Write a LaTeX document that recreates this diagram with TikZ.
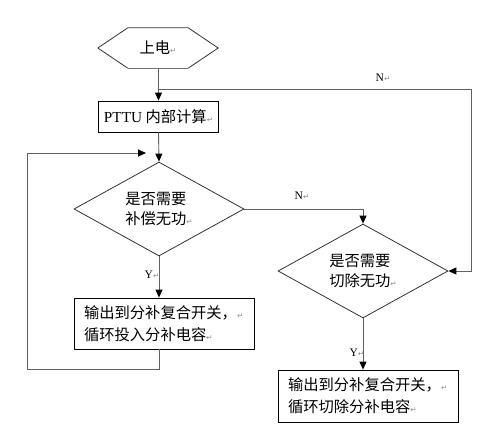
\documentclass[tikz,border=0pt]{standalone}
\usepackage{fontspec}
\setmainfont{Liberation Serif}
\newfontfamily\cjk{Noto Sans CJK SC}
\newfontfamily\symf{DejaVu Sans}
\usetikzlibrary{arrows.meta,shapes.geometric}
\newcommand\parmk{{\symf\color{black!45}\fontsize{7.5}{8}\selectfont ↵}}
\tikzset{
  conn/.style={draw=black!62, line width=0.9pt},
  arr/.style={conn, -{Triangle[length=8pt,width=7pt,color=black]}},
  boxnode/.style={draw=black, line width=0.8pt, inner sep=0pt, font=\cjk\fontsize{15.3}{22}\selectfont},
  txtbox/.style={boxnode, text width=160pt, inner xsep=10pt, align=left, minimum width=180pt},
  decision/.style={diamond, draw=black!80, line width=0.8pt, inner sep=0pt, aspect=1.8,
    minimum width=170pt, minimum height=94pt, align=left, font=\cjk\fontsize{15.3}{20}\selectfont},
  lbl/.style={inner sep=0pt, font=\fontsize{11.5}{12}\selectfont}
}
\begin{document}
\begin{tikzpicture}[x=1pt,y=-1pt]
\useasboundingbox (0,0) rectangle (495,434);
% start hexagon
\node[inner sep=0pt, minimum width=120pt, minimum height=40pt, font=\cjk\fontsize{15.3}{18}\selectfont] (start) at (158,48) {上电\parmk};
\draw[draw=black!80, line width=0.8pt] (start.west) -- ([xshift=30pt]start.north west) -- ([xshift=-30pt]start.north east) -- (start.east) -- ([xshift=-30pt]start.south east);
\draw[draw=black!55, line width=1.2pt] ([xshift=-30pt]start.south east) -- ([xshift=30pt]start.south west);
\draw[draw=black!80, line width=0.8pt] ([xshift=30pt]start.south west) -- (start.west);
% process box
\node[boxnode, minimum width=120pt, minimum height=31pt] (pttu) at (158.5,116.5) {{\rmfamily PTTU} 内部计算\parmk};
% decisions
\node[decision] (d1) at (159,209) {是否需要\\补偿无功\parmk};
\node[decision] (d2) at (363,271) {是否需要\\切除无功\parmk};
% output boxes
\node[txtbox, minimum height=51pt] (b1) at (164,323.5) {输出到分补复合开关，\parmk\\循环投入分补电容\parmk};
\node[txtbox, minimum height=52pt] (b2) at (368,396) {输出到分补复合开关，\parmk\\循环切除分补电容\parmk};
% helper coordinates
\coordinate (jn) at (158.5,89);
\coordinate (rt) at (471,89);
\coordinate (lb) at (27,369);
\coordinate (lt) at (27,153);
\coordinate (le) at (146,153);
% connectors
\draw[arr] (start.south -| pttu.north) -- (pttu.north);
\draw[arr] (jn) -- (rt) |- (d2.east);
\draw[arr] (pttu.south) -- (d1.north);
\draw[arr] (d1.east) -| (d2.north);
\draw[arr] (d1.south) -- (d1.south |- b1.north);
\draw[conn] (d1.south |- b1.south) |- (lb);
\draw[arr] (lb) -- (lt) -- (le);
\draw[arr] (d2.south) -- (d2.south |- b2.north);
% labels
\node[lbl] (n1) at (383,78) {N\parmk};
\node[lbl] (n2) at (302,196) {N\parmk};
\node[lbl] (y1) at (152,275) {Y\parmk};
\node[lbl] (y2) at (357,353) {Y\parmk};
\end{tikzpicture}
\end{document}
